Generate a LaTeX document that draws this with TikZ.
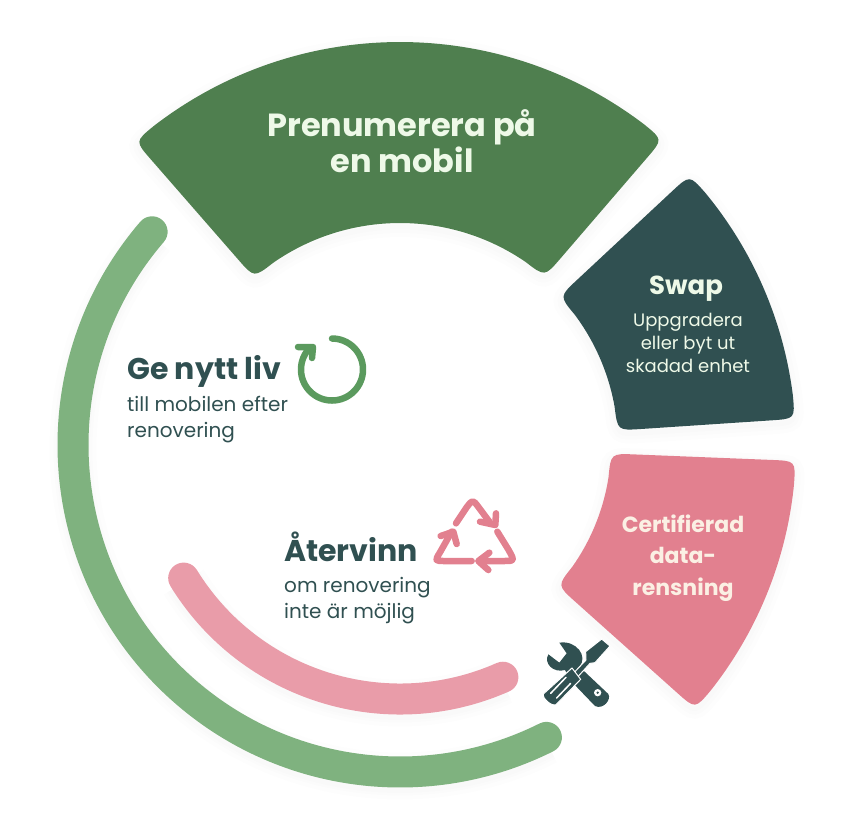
\documentclass[tikz,border=0pt]{standalone}
\usepackage{fontspec}
\setmainfont{Poppins}
\definecolor{cgreen}{HTML}{4F7F4F}
\definecolor{cteal}{HTML}{305051}
\definecolor{cpink}{HTML}{E2808F}
\definecolor{cleaf}{HTML}{7FB27F}
\definecolor{crose}{HTML}{E99CA9}
\definecolor{cicon}{HTML}{5B9A5E}
\definecolor{ccream}{HTML}{EEF9E8}
\definecolor{cshell}{HTML}{FBF0E4}
\newcommand{\ringpiece}[5]{% colour, start angle, end angle, outer and inner radius of a rounded ring sector
  \pgfmathsetmacro{\da}{24/#4*57.3}\pgfmathsetmacro{\db}{24/#5*57.3}
  \pgfmathsetmacro{\aa}{#2+\da}\pgfmathsetmacro{\ab}{#3-\da}
  \pgfmathsetmacro{\ac}{#3-\db}\pgfmathsetmacro{\ad}{#2+\db}
  \fill[piece=#1] (\aa:#4) arc[start angle=\aa, end angle=\ab, radius=#4]
  .. controls (#3:#4) .. (#3:#4-24) -- (#3:#5+24)
  .. controls (#3:#5) .. (\ac:#5) arc[start angle=\ac, end angle=\ad, radius=#5]
  .. controls (#2:#5) .. (#2:#5+24) -- (#2:#4-24)
  .. controls (#2:#4) .. cycle;
}
\tikzset{
  every picture/.style={x=1pt, y=-1pt},
  halo/.style={preaction={draw=black, fill=none, draw opacity=.008, line width=#1, transform canvas={yshift=-4pt}}},
  piece/.style={halo=20pt, halo=12pt, halo=5pt, fill=#1, draw=none},
  ring/.style={halo=47pt, halo=39pt, halo=34pt, draw=#1, line width=31pt, line cap=round},
  glyph/.style={draw=#1, line width=6.5pt, line cap=round, line join=round},
  head/.style={font=\fontsize{#1}{36}\selectfont\bfseries, text=ccream, align=center, inner sep=0pt},
  lead/.style={font=\fontsize{30}{33}\selectfont\bfseries, text=cteal, anchor=base west, inner sep=0pt},
  sub/.style={font=\fontsize{20}{26}\selectfont, text=cteal, anchor=north west, align=left, inner sep=0pt},
}
\begin{document}
\begin{tikzpicture}
  \useasboundingbox (0,0) rectangle (852,823);
  \begin{scope}[shift={(400,445)}]
    \ringpiece{cgreen}{228.9}{310.7}{403}{222}
    \ringpiece{cteal}{-43}{-3.8}{396}{218}
    \ringpiece{cpink}{2.3}{41.8}{396}{211}
    \draw[ring=cleaf] (220.7:327) arc[start angle=220.7, end angle=63.4, radius=327];
    \draw[ring=crose] (148.4:254) arc[start angle=148.4, end angle=66.1, radius=254];
  \end{scope}
  % headings in the sectors
  \node[head=32] (subscribe) at (402,141) {Prenumerera på\\en mobil};
  \node[head=26] (swap) at (686,289) {Swap};
  \node[font=\fontsize{18}{23}\selectfont, text=ccream, align=center, inner sep=0pt] (swaptext) at (688,343) {Uppgradera\\eller byt ut\\skadad enhet};
  \node[font=\fontsize{22}{31.5}\selectfont\bfseries, text=cshell, align=center, inner sep=0pt] (wipe) at (683,558) {Certifierad\\data-\\rensning};
  % texts on the white
  \node[lead] (renew) at (127,379) {Ge nytt liv};
  \node[sub] (renewtext) at (127,396) {till mobilen efter\\renovering};
  \node[lead] (recycle) at (284,561) {Återvinn};
  \node[sub] (recycletext) at (284,577) {om renovering\\inte är möjlig};
  % circular arrow
  \draw[glyph=cicon] (332,338.5) arc[start angle=-90, end angle=226, radius=31];
  \draw[glyph=cicon] (298,347) -- (313,347) -- (312,358);
  % recycling triangle
  \begin{scope}[shift={(420,490)}, scale=1/3]
    \draw[glyph=cpink] (108,100) -- (140,52) .. controls (158,28) .. (176,52) -- (208,95);
    \draw[glyph=cpink] (180,95) -- (226,105) -- (228,70);
    \draw[glyph=cpink] (155,213) -- (75,213) .. controls (44,213) .. (60,187) -- (95,125);
    \draw[glyph=cpink] (62,138) -- (100,125) -- (110,162);
    \draw[glyph=cpink] (232,125) -- (266,180) .. controls (284,213) .. (250,213) -- (180,213);
    \draw[glyph=cpink] (208,188) -- (175,213) -- (205,240);
  \end{scope}
  % tools
  \begin{scope}[shift={(520,620)}, scale=1/3]
    \fill[cteal] (118,68) .. controls (170,60) and (205,110) .. (178,140) -- (265,222)
      .. controls (275,238) and (250,270) .. (225,258) -- (155,185) -- (135,150)
      .. controls (100,160) and (70,130) .. (85,103) -- (118,128) -- (140,100) -- cycle;
    \fill[white] (233,218) circle[radius=11];
    \fill[cteal] (233,218) circle[radius=4];
    \filldraw[fill=cteal, draw=white, line width=1pt] (245,57) -- (270,78) -- (225,128) -- (210,130) -- (172,172) -- (160,160) -- (198,120) -- (197,95) -- cycle;
    \filldraw[fill=cteal, draw=white, line width=1pt] (156,144) -- (182,178) -- (108,254) .. controls (95,260) and (66,235) .. (70,222) -- cycle;
    \draw[white, line width=1.5pt, line cap=round] (92,220) -- (138,172) (110,234) -- (152,190);
  \end{scope}
\end{tikzpicture}
\end{document}
